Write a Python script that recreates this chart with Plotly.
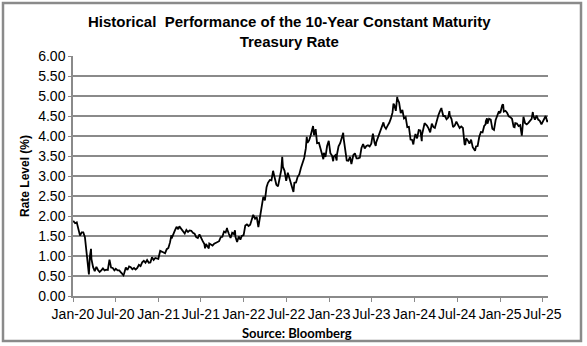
import plotly.graph_objects as go

dates = [
"2020-01-02","2020-01-10","2020-01-17","2020-01-24","2020-01-31","2020-02-07","2020-02-14","2020-02-21","2020-02-28","2020-03-06","2020-03-09","2020-03-13","2020-03-18","2020-03-20","2020-03-27","2020-04-03","2020-04-10","2020-04-17","2020-04-24","2020-05-01","2020-05-08","2020-05-15","2020-05-22","2020-05-29","2020-06-05","2020-06-12","2020-06-19","2020-06-26","2020-07-02","2020-07-10","2020-07-17","2020-07-24","2020-07-31","2020-08-04","2020-08-07","2020-08-14","2020-08-21","2020-08-28","2020-09-04","2020-09-11","2020-09-18","2020-09-25","2020-10-02","2020-10-09","2020-10-16","2020-10-23","2020-10-30","2020-11-06","2020-11-13","2020-11-20","2020-11-27","2020-12-04","2020-12-11","2020-12-18","2020-12-24","2020-12-31",
"2021-01-08","2021-01-15","2021-01-22","2021-01-29","2021-02-05","2021-02-12","2021-02-19","2021-02-25","2021-02-26","2021-03-05","2021-03-12","2021-03-19","2021-03-26","2021-03-31","2021-04-09","2021-04-16","2021-04-23","2021-04-30","2021-05-07","2021-05-14","2021-05-21","2021-05-28","2021-06-04","2021-06-11","2021-06-18","2021-06-25","2021-07-02","2021-07-09","2021-07-16","2021-07-19","2021-07-23","2021-07-30","2021-08-04","2021-08-06","2021-08-13","2021-08-20","2021-08-27","2021-09-03","2021-09-10","2021-09-17","2021-09-24","2021-10-01","2021-10-08","2021-10-15","2021-10-21","2021-10-22","2021-10-29","2021-11-05","2021-11-12","2021-11-19","2021-11-24","2021-11-26","2021-12-03","2021-12-10","2021-12-17","2021-12-23","2021-12-31",
"2022-01-07","2022-01-14","2022-01-21","2022-01-28","2022-02-04","2022-02-10","2022-02-18","2022-02-25","2022-03-04","2022-03-11","2022-03-18","2022-03-25","2022-04-01","2022-04-08","2022-04-14","2022-04-22","2022-04-29","2022-05-06","2022-05-09","2022-05-13","2022-05-20","2022-05-27","2022-06-03","2022-06-10","2022-06-14","2022-06-17","2022-06-24","2022-07-01","2022-07-08","2022-07-15","2022-07-22","2022-07-29","2022-08-01","2022-08-05","2022-08-12","2022-08-19","2022-08-26","2022-09-02","2022-09-09","2022-09-16","2022-09-23","2022-09-27","2022-09-30","2022-10-07","2022-10-14","2022-10-21","2022-10-24","2022-10-28","2022-11-04","2022-11-10","2022-11-18","2022-11-25","2022-12-02","2022-12-07","2022-12-09","2022-12-16","2022-12-23","2022-12-30",
"2023-01-06","2023-01-13","2023-01-18","2023-01-20","2023-01-27","2023-02-02","2023-02-03","2023-02-10","2023-02-17","2023-02-24","2023-03-02","2023-03-03","2023-03-10","2023-03-17","2023-03-24","2023-03-31","2023-04-06","2023-04-14","2023-04-21","2023-04-28","2023-05-05","2023-05-12","2023-05-19","2023-05-26","2023-06-02","2023-06-09","2023-06-16","2023-06-23","2023-06-30","2023-07-07","2023-07-14","2023-07-19","2023-07-21","2023-07-28","2023-08-04","2023-08-11","2023-08-18","2023-08-21","2023-08-25","2023-09-01","2023-09-08","2023-09-15","2023-09-22","2023-09-29","2023-10-03","2023-10-06","2023-10-13","2023-10-19","2023-10-20","2023-10-27","2023-11-03","2023-11-10","2023-11-17","2023-11-24","2023-12-01","2023-12-08","2023-12-15","2023-12-22","2023-12-27","2023-12-29",
"2024-01-05","2024-01-12","2024-01-19","2024-01-26","2024-02-01","2024-02-02","2024-02-09","2024-02-13","2024-02-16","2024-02-23","2024-03-01","2024-03-08","2024-03-15","2024-03-22","2024-03-28","2024-04-05","2024-04-12","2024-04-19","2024-04-25","2024-04-26","2024-05-03","2024-05-10","2024-05-17","2024-05-24","2024-05-29","2024-05-31","2024-06-07","2024-06-14","2024-06-21","2024-06-28","2024-07-05","2024-07-12","2024-07-19","2024-07-26","2024-08-02","2024-08-05","2024-08-09","2024-08-16","2024-08-23","2024-08-30","2024-09-06","2024-09-13","2024-09-16","2024-09-20","2024-09-27","2024-10-04","2024-10-11","2024-10-18","2024-10-25","2024-10-31","2024-11-01","2024-11-06","2024-11-08","2024-11-15","2024-11-22","2024-11-29","2024-12-06","2024-12-13","2024-12-20","2024-12-27","2024-12-31",
"2025-01-03","2025-01-10","2025-01-14","2025-01-17","2025-01-24","2025-01-31","2025-02-07","2025-02-14","2025-02-21","2025-02-28","2025-03-04","2025-03-07","2025-03-14","2025-03-21","2025-03-28","2025-04-04","2025-04-11","2025-04-18","2025-04-25","2025-05-02","2025-05-09","2025-05-16","2025-05-21","2025-05-23","2025-05-30","2025-06-06","2025-06-13","2025-06-20","2025-06-27","2025-07-03","2025-07-11","2025-07-15","2025-07-18","2025-07-22","2025-07-25"
]

rates = [
1.88,1.82,1.84,1.70,1.51,1.59,1.59,1.47,1.13,0.71,0.54,0.98,1.18,0.92,0.72,0.62,0.73,0.65,0.60,0.64,0.69,0.64,0.66,0.65,0.91,0.71,0.70,0.64,0.68,0.64,0.64,0.59,0.55,0.52,0.57,0.71,0.65,0.74,0.72,0.67,0.70,0.66,0.70,0.78,0.75,0.84,0.88,0.83,0.90,0.83,0.84,0.97,0.90,0.95,0.94,0.93,
1.13,1.11,1.09,1.07,1.17,1.20,1.34,1.52,1.44,1.57,1.64,1.73,1.67,1.74,1.67,1.59,1.56,1.65,1.60,1.64,1.63,1.58,1.56,1.47,1.45,1.54,1.44,1.37,1.30,1.19,1.30,1.24,1.19,1.31,1.29,1.26,1.31,1.33,1.34,1.37,1.47,1.48,1.61,1.59,1.70,1.66,1.55,1.45,1.58,1.55,1.64,1.48,1.35,1.49,1.41,1.50,1.52,
1.76,1.79,1.75,1.78,1.93,2.03,1.93,1.97,1.72,2.00,2.15,2.48,2.39,2.72,2.83,2.90,2.89,3.13,3.05,2.93,2.78,2.74,2.96,3.15,3.48,3.23,3.13,2.88,3.08,2.93,2.78,2.67,2.60,2.83,2.84,2.98,3.04,3.20,3.33,3.45,3.69,3.98,3.83,3.89,4.02,4.21,4.25,4.02,4.17,3.82,3.83,3.68,3.50,3.42,3.58,3.48,3.75,3.88,
3.57,3.51,3.37,3.48,3.52,3.39,3.53,3.74,3.82,3.95,4.08,3.97,3.70,3.39,3.38,3.48,3.30,3.52,3.57,3.44,3.44,3.46,3.70,3.80,3.69,3.75,3.77,3.74,3.81,4.06,3.83,3.75,3.84,3.95,4.05,4.16,4.26,4.34,4.24,4.18,4.26,4.33,4.44,4.59,4.81,4.78,4.63,4.98,4.93,4.84,4.57,4.65,4.44,4.47,4.22,4.23,3.91,3.90,3.79,3.88,
4.05,3.94,4.15,4.14,3.87,4.03,4.18,4.32,4.30,4.26,4.19,4.09,4.31,4.22,4.20,4.39,4.52,4.62,4.70,4.67,4.50,4.50,4.42,4.46,4.62,4.51,4.43,4.22,4.26,4.36,4.28,4.20,4.24,4.20,3.80,3.78,3.94,3.89,3.81,3.91,3.72,3.66,3.63,3.74,3.75,3.98,4.10,4.09,4.25,4.29,4.37,4.44,4.31,4.43,4.41,4.18,4.15,4.40,4.52,4.62,4.58,
4.60,4.77,4.79,4.61,4.63,4.58,4.49,4.47,4.43,4.23,4.22,4.32,4.31,4.25,4.27,4.01,4.48,4.32,4.29,4.33,4.37,4.43,4.60,4.51,4.41,4.51,4.41,4.38,4.29,4.35,4.43,4.50,4.44,4.35,4.40
]

y_ticks = [0, 0.5, 1, 1.5, 2, 2.5, 3, 3.5, 4, 4.5, 5, 5.5, 6]

fig = go.Figure(go.Scatter(x=dates, y=rates, mode="lines",
                           line=dict(color="black", width=1.8)))

L, R, T, B = 73, 39, 56, 50
W, H = 587, 346
pw, ph = W - L - R, H - T - B

def px_x(p):
    return (p - L) / pw

def px_y(p):
    return (H - B - p) / ph

fig.update_layout(
    width=W, height=H,
    margin=dict(l=L, r=R, t=T, b=B),
    paper_bgcolor="white", plot_bgcolor="white",
    showlegend=False,
    font=dict(family="Liberation Sans, Arial, sans-serif", color="black"),
    xaxis=dict(
        type="date", range=["2020-01-01", "2025-07-25"],
        tick0="2020-01-01", dtick="M6", tickformat="%b-%y",
        tickangle=0,
        ticks="outside", ticklen=4, tickcolor="#8a8a8a",
        showgrid=False, showline=True, linecolor="#8a8a8a", linewidth=1.5,
        tickfont=dict(size=14, family="Liberation Sans, Arial"),
        zeroline=False,
    ),
    yaxis=dict(
        range=[0, 6], tickvals=y_ticks, tickformat=".2f",
        ticks="outside", ticklen=3, tickcolor="#8a8a8a",
        showgrid=True, gridcolor="#8a8a8a", gridwidth=1.5,
        showline=True, linecolor="#8a8a8a", linewidth=1.5,
        tickfont=dict(size=14, family="Liberation Sans, Arial"),
        zeroline=False,
        title=dict(text="<b>Rate Level (%)</b>", font=dict(size=12), standoff=6),
    ),
)

fig.add_annotation(
    xref="paper", yref="paper", x=px_x(289), y=px_y(31.5),
    text="<b>Historical  Performance of the 10-Year Constant Maturity<br>Treasury Rate</b>",
    showarrow=False, xanchor="center", yanchor="middle",
    font=dict(size=15, family="Liberation Sans, Arial"),
)
fig.add_annotation(
    xref="paper", yref="paper", x=px_x(297), y=px_y(333),
    text="<b>Source: Bloomberg</b>",
    showarrow=False, xanchor="center", yanchor="middle",
    font=dict(size=13, family="Lato, Liberation Sans"),
)
fig.add_shape(
    type="rect", xref="paper", yref="paper",
    x0=px_x(3), x1=px_x(581), y0=px_y(341), y1=px_y(3),
    line=dict(color="#8a8a8a", width=2.5), fillcolor="rgba(0,0,0,0)",
    layer="above",
)

fig.write_html("out.html")
